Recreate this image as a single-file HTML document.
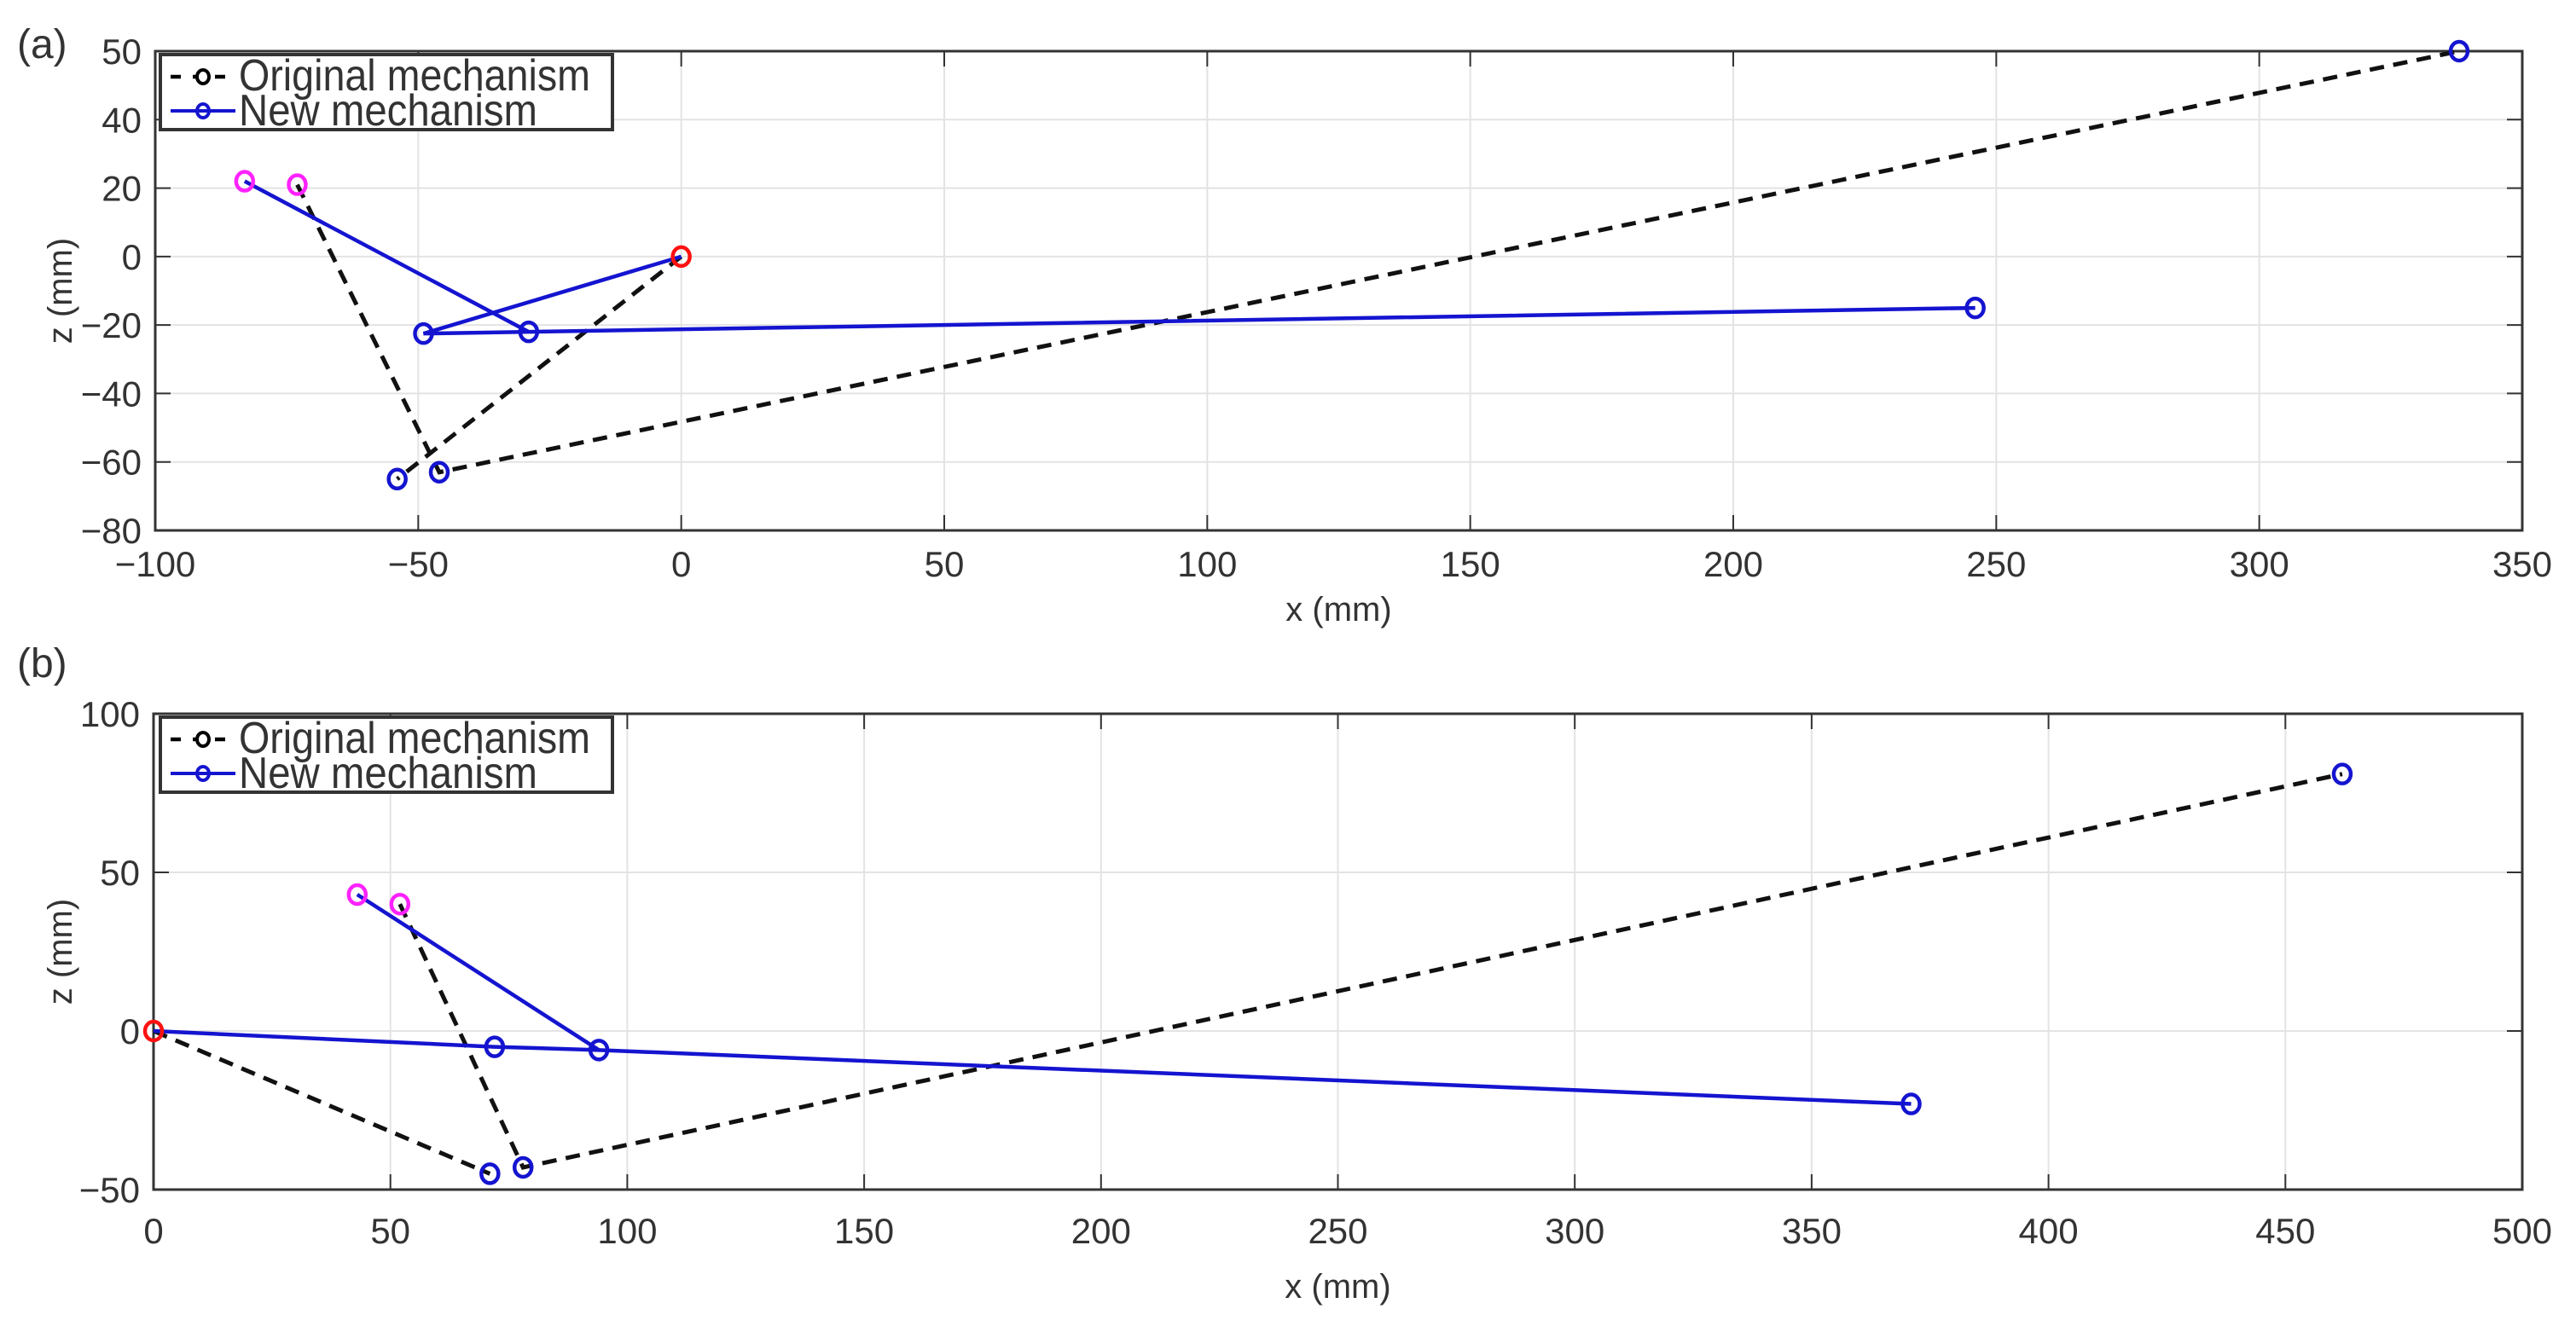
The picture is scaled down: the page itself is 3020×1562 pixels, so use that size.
<!DOCTYPE html>
<html><head><meta charset="utf-8"><style>
html,body{margin:0;padding:0;background:#fff;}
svg{display:block;font-family:"Liberation Sans",sans-serif;}
</style></head><body>
<svg id="fig" width="3020" height="1562" viewBox="0 0 3020 1562" xmlns="http://www.w3.org/2000/svg"></svg>
<script>
// ---- Panel (a) data ----
const aXTicks = [-100,-50,0,50,100,150,200,250,300,350];
const aXTickLabels = ["\u2212100","\u221250","0","50","100","150","200","250","300","350"];
const aYTicks = [60,40,20,0,-20,-40,-60,-80];
const aYTickLabels = ["50","40","20","0","\u221220","\u221240","\u221260","\u221280"];
const aOrigPath1 = [[-73,21],[-46,-63],[338,60]];
const aOrigPath2 = [[0,0],[-54,-65]];
const aNewPath1 = [[-83,22],[-29,-22]];
const aNewPath2 = [[0,0],[-49,-22.5],[246,-15]];
const aMagenta = [[-83,22],[-73,21]];
const aRed = [[0,0]];
const aBlue = [[-49,-22.5],[-29,-22],[246,-15],[-54,-65],[-46,-63],[338,60]];
// ---- Panel (b) data ----
const bXTicks = [0,50,100,150,200,250,300,350,400,450,500];
const bXTickLabels = ["0","50","100","150","200","250","300","350","400","450","500"];
const bYTicks = [100,50,0,-50];
const bYTickLabels = ["100","50","0","\u221250"];
const bOrigPath1 = [[52,40],[78,-43],[462,81]];
const bOrigPath2 = [[0,0],[71,-45]];
const bNewPath1 = [[43,43],[94,-6]];
const bNewPath2 = [[0,0],[72,-5],[94,-6],[371,-23]];
const bMagenta = [[43,43],[52,40]];
const bRed = [[0,0]];
const bBlue = [[72,-5],[94,-6],[371,-23],[71,-45],[78,-43],[462,81]];

const NS = "http://www.w3.org/2000/svg";
const svg = document.getElementById('fig');
function mk(tag, attrs, parent){
  const e = document.createElementNS(NS, tag);
  for (const k in attrs) e.setAttribute(k, attrs[k]);
  (parent||svg).appendChild(e);
  return e;
}

function panel(cfg){
  const g = mk('g', {});
  
  
  const L=cfg.L, R=cfg.R, T=cfg.T, B=cfg.B;
  const sx = v => L + (v - cfg.xmin) / (cfg.xmax - cfg.xmin) * (R - L);
  const sy = v => B - (v - cfg.ymin) / (cfg.ymax - cfg.ymin) * (B - T);
  cfg.xt.forEach((v,i)=>{
    const x = sx(v);
    const gl = mk('line',{x1:x,y1:T,x2:x,y2:B,stroke:'#e3e3e3','stroke-width':2},g);
    
    
    mk('line',{x1:x,y1:B,x2:x,y2:B-18,stroke:'#333','stroke-width':2},g);
    mk('line',{x1:x,y1:T,x2:x,y2:T+18,stroke:'#333','stroke-width':2},g);
    const t = mk('text',{x:x,y:cfg.xLabelY,'font-size':42,'text-anchor':'middle',fill:'#333'},g);
    t.textContent = cfg.xl[i];
    
    
  });
  cfg.yt.forEach((v,i)=>{
    const y = sy(v);
    const gl = mk('line',{x1:L,y1:y,x2:R,y2:y,stroke:'#e3e3e3','stroke-width':2},g);
    
    
    mk('line',{x1:L,y1:y,x2:L+18,y2:y,stroke:'#333','stroke-width':2},g);
    mk('line',{x1:R,y1:y,x2:R-18,y2:y,stroke:'#333','stroke-width':2},g);
    const t = mk('text',{x:L-16,y:y+15,'font-size':42,'text-anchor':'end',fill:'#333'},g);
    t.textContent = cfg.yl[i];
    
    
  });
  const frame = mk('rect',{x:L,y:T,width:R-L,height:B-T,fill:'none',stroke:'#333','stroke-width':3},g);
  
  
  const pts = p => p.map(q=>sx(q[0])+','+sy(q[1])).join(' ');
  cfg.orig.forEach(p=>{
    const l = mk('polyline',{points:pts(p),fill:'none',stroke:'#111','stroke-width':5,'stroke-dasharray':'17,11'},g);
    
    
  });
  cfg.nw.forEach(p=>{
    const l = mk('polyline',{points:pts(p),fill:'none',stroke:'#1414d0','stroke-width':4.5},g);
    
    
  });
  [[cfg.mag,'#ff22ff','joint-marker-magenta'],[cfg.red,'#ff1111','origin-marker'],[cfg.blue,'#1414d0','joint-marker']].forEach(([arr,col,nm])=>{
    arr.forEach(q=>{
      const c = mk('ellipse',{cx:sx(q[0]),cy:sy(q[1]),rx:10,ry:11,fill:'none',stroke:col,'stroke-width':4.5},g);
      
      
    });
  });
  const lg = mk('g',{},g);
  
  
  const lx = cfg.legX, ly = cfg.legY;
  mk('rect',{x:lx,y:ly,width:530,height:88,fill:'#fff',stroke:'#333','stroke-width':4},lg);
  mk('line',{x1:lx+12,y1:ly+26,x2:lx+88,y2:ly+26,stroke:'#000','stroke-width':4.5,'stroke-dasharray':'12,14'},lg);
  mk('ellipse',{cx:lx+50,cy:ly+26,rx:7,ry:8,fill:'#fff',stroke:'#000','stroke-width':4},lg);
  mk('line',{x1:lx+12,y1:ly+66,x2:lx+88,y2:ly+66,stroke:'#1414d0','stroke-width':4},lg);
  mk('ellipse',{cx:lx+50,cy:ly+66,rx:7,ry:8,fill:'none',stroke:'#1414d0','stroke-width':4},lg);
  const t1 = mk('text',{x:lx+92,y:ly+42,'font-size':52,fill:'#333',textLength:412,lengthAdjust:'spacingAndGlyphs'},lg);
  t1.textContent = 'Original mechanism';
  
  
  const t2 = mk('text',{x:lx+92,y:ly+83,'font-size':52,fill:'#333',textLength:350,lengthAdjust:'spacingAndGlyphs'},lg);
  t2.textContent = 'New mechanism';
  
  
  const xt = mk('text',{x:(L+R)/2,y:cfg.xTitleY,'font-size':40,'text-anchor':'middle',fill:'#333'},g);
  xt.textContent = 'x (mm)';
  
  
  const yt = mk('text',{x:0,y:0,'font-size':40,'text-anchor':'middle',fill:'#333',transform:`translate(84,${(T+B)/2}) rotate(-90)`},g);
  yt.textContent = 'z (mm)';
  
  
  const pl = mk('text',{x:20,y:cfg.labelY,'font-size':48,fill:'#333'},g);
  pl.textContent = cfg.label;
  
  
}

panel({name:'panel-a',L:182,R:2957,T:60,B:622,xmin:-100,xmax:350,ymin:-80,ymax:60,
  xt:aXTicks,xl:aXTickLabels,yt:aYTicks,yl:aYTickLabels,
  orig:[aOrigPath1,aOrigPath2],nw:[aNewPath1,aNewPath2],mag:aMagenta,red:aRed,blue:aBlue,
  xLabelY:676,xTitleY:728,legX:188,legY:64,label:'(a)',labelY:68});
panel({name:'panel-b',L:180,R:2957,T:837,B:1395,xmin:0,xmax:500,ymin:-50,ymax:100,
  xt:bXTicks,xl:bXTickLabels,yt:bYTicks,yl:bYTickLabels,
  orig:[bOrigPath1,bOrigPath2],nw:[bNewPath1,bNewPath2],mag:bMagenta,red:bRed,blue:bBlue,
  xLabelY:1458,xTitleY:1522,legX:188,legY:841,label:'(b)',labelY:794});
</script>
</body></html>
